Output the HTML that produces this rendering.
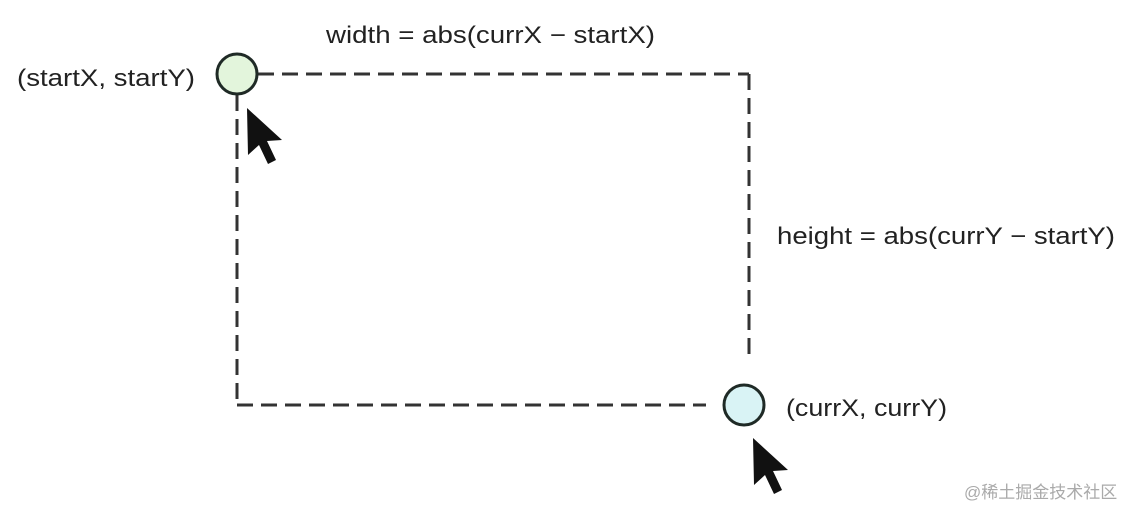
<!DOCTYPE html>
<html><head><style>
html,body{margin:0;padding:0;background:#fff;width:1132px;height:508px;overflow:hidden}
svg text{font-family:"Liberation Sans",sans-serif;fill:#222;font-size:24px}
</style></head><body>
<svg width="1132" height="508" viewBox="0 0 1132 508" xmlns="http://www.w3.org/2000/svg">
<g stroke="#333" stroke-width="3" fill="none" stroke-dasharray="16 8">
<line x1="258" y1="74" x2="749" y2="74"/>
<line x1="749" y1="74" x2="749" y2="360"/>
<line x1="237" y1="95" x2="237" y2="405"/>
<line x1="237" y1="405" x2="706" y2="405"/>
</g>
<circle cx="237" cy="74" r="20" fill="#e3f5dc" stroke="#1f2a26" stroke-width="3"/>
<circle cx="744" cy="405" r="20" fill="#d9f3f5" stroke="#1f2a26" stroke-width="3"/>
<path d="M247,108 L248,155 L259,145 L268,164 L276,160 L267,141 L282,140 Z" fill="#111"/>
<path d="M753,438 L754,485 L765,475 L774,494 L782,490 L773,471 L788,470 Z" fill="#111"/>
<text x="326" y="43" textLength="329" lengthAdjust="spacingAndGlyphs">width = abs(currX − startX)</text>
<text x="17" y="86" textLength="178" lengthAdjust="spacingAndGlyphs">(startX, startY)</text>
<text x="777" y="244" textLength="338" lengthAdjust="spacingAndGlyphs">height = abs(currY − startY)</text>
<text x="786" y="416" textLength="161" lengthAdjust="spacingAndGlyphs">(currX, currY)</text>
<text x="964" y="498" style="font-size:17px;fill:#aaa;font-family:'Liberation Sans','Noto Sans CJK SC',sans-serif">@稀土掘金技术社区</text>
</svg>
</body></html>
